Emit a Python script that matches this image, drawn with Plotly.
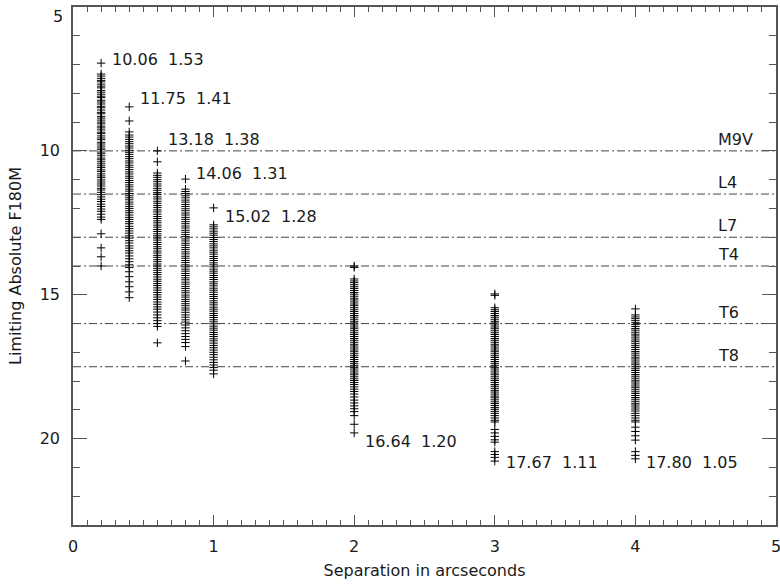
import plotly.graph_objects as go

# ---------------- data ----------------
separations = [0.2, 0.4, 0.6, 0.8, 1.0, 2.0, 3.0, 4.0]

mags_02 = [6.95, 7.33, 7.40, 7.48, 7.55, 7.60, 7.68, 7.75, 7.81, 7.90, 7.96, 8.03, 8.10, 8.15,
           8.24, 8.30, 8.37, 8.45, 8.50, 8.58, 8.66, 8.71, 8.80, 8.86, 8.93, 9.00, 9.06, 9.14,
           9.20, 9.27, 9.35, 9.40, 9.48, 9.55, 9.61, 9.70, 9.76, 9.83, 9.90, 9.96, 10.04, 10.10,
           10.17, 10.25, 10.31, 10.38, 10.45, 10.52, 10.58, 10.66, 10.72, 10.80, 10.87, 10.93,
           11.01, 11.08, 11.15, 11.22, 11.30, 11.36, 11.44, 11.52, 11.60, 11.68, 11.76, 11.85,
           11.93, 12.02, 12.10, 12.20, 12.30, 12.38, 12.88, 13.37, 13.68, 14.00]
mags_04 = [8.47, 8.96, 9.34, 9.45, 9.52, 9.60, 9.68, 9.75, 9.83, 9.90, 9.98, 10.05, 10.12, 10.20,
           10.27, 10.35, 10.42, 10.50, 10.57, 10.65, 10.73, 10.80, 10.88, 10.95, 11.03, 11.10,
           11.18, 11.25, 11.33, 11.40, 11.48, 11.56, 11.63, 11.70, 11.78, 11.85, 11.93, 12.00,
           12.08, 12.15, 12.23, 12.31, 12.38, 12.46, 12.53, 12.62, 12.70, 12.78, 12.86, 12.95,
           13.03, 13.12, 13.20, 13.30, 13.38, 13.47, 13.55, 13.65, 13.75, 13.85, 13.96, 14.05,
           14.20, 14.37, 14.55, 14.72, 14.90, 15.10]
mags_06 = [10.00, 10.38, 10.77, 10.85, 10.92, 11.00, 11.07, 11.15, 11.22, 11.30, 11.37, 11.45,
           11.52, 11.60, 11.67, 11.75, 11.82, 11.90, 11.97, 12.05, 12.12, 12.20, 12.28, 12.35,
           12.43, 12.50, 12.58, 12.65, 12.73, 12.80, 12.88, 12.95, 13.03, 13.10, 13.18, 13.25,
           13.33, 13.40, 13.48, 13.55, 13.63, 13.70, 13.78, 13.85, 13.93, 14.00, 14.08, 14.15,
           14.23, 14.30, 14.38, 14.46, 14.53, 14.61, 14.68, 14.76, 14.84, 14.92, 15.00, 15.08,
           15.16, 15.25, 15.33, 15.42, 15.50, 15.60, 15.70, 15.80, 15.90, 16.00, 16.10, 16.67]
mags_08 = [10.98, 11.33, 11.41, 11.48, 11.56, 11.63, 11.71, 11.78, 11.86, 11.93, 12.01, 12.08,
           12.16, 12.23, 12.31, 12.38, 12.46, 12.53, 12.61, 12.68, 12.76, 12.83, 12.91, 12.98,
           13.06, 13.13, 13.21, 13.28, 13.36, 13.43, 13.51, 13.58, 13.66, 13.73, 13.81, 13.88,
           13.96, 14.03, 14.11, 14.18, 14.26, 14.33, 14.41, 14.48, 14.56, 14.63, 14.71, 14.78,
           14.86, 14.93, 15.01, 15.08, 15.16, 15.23, 15.31, 15.38, 15.46, 15.53, 15.61, 15.70,
           15.78, 15.87, 15.95, 16.05, 16.15, 16.25, 16.35, 16.45, 16.55, 16.66, 16.80, 17.30]
mags_10 = [11.98, 12.57, 12.64, 12.71, 12.79, 12.86, 12.93, 13.01, 13.08, 13.15, 13.23, 13.30,
           13.37, 13.45, 13.52, 13.59, 13.67, 13.74, 13.81, 13.89, 13.96, 14.03, 14.11, 14.18,
           14.25, 14.33, 14.40, 14.47, 14.55, 14.62, 14.69, 14.77, 14.84, 14.91, 14.99, 15.06,
           15.13, 15.21, 15.28, 15.35, 15.43, 15.50, 15.57, 15.65, 15.72, 15.79, 15.87, 15.94,
           16.01, 16.09, 16.16, 16.23, 16.31, 16.38, 16.45, 16.53, 16.60, 16.68, 16.76, 16.84,
           16.92, 17.00, 17.08, 17.17, 17.26, 17.35, 17.44, 17.53, 17.62, 17.75]
mags_20 = [14.00, 14.05, 14.45, 14.52, 14.58, 14.65, 14.72, 14.78, 14.85, 14.92, 14.98, 15.05,
           15.12, 15.18, 15.25, 15.32, 15.38, 15.45, 15.52, 15.58, 15.65, 15.72, 15.78, 15.85,
           15.92, 15.98, 16.05, 16.12, 16.18, 16.25, 16.32, 16.38, 16.45, 16.52, 16.58, 16.65,
           16.72, 16.78, 16.85, 16.92, 16.98, 17.05, 17.12, 17.18, 17.25, 17.32, 17.38, 17.45,
           17.52, 17.58, 17.65, 17.72, 17.78, 17.85, 17.92, 17.98, 18.05, 18.12, 18.20, 18.28,
           18.36, 18.45, 18.55, 18.66, 18.76, 18.86, 18.96, 19.06, 19.20, 19.50, 19.80]
mags_30 = [14.97, 15.02, 15.45, 15.52, 15.58, 15.65, 15.72, 15.78, 15.85, 15.92, 15.98, 16.05,
           16.12, 16.18, 16.25, 16.32, 16.38, 16.45, 16.52, 16.58, 16.65, 16.72, 16.78, 16.85,
           16.92, 16.98, 17.05, 17.12, 17.18, 17.25, 17.32, 17.38, 17.45, 17.52, 17.58, 17.65,
           17.72, 17.78, 17.85, 17.92, 17.98, 18.05, 18.12, 18.18, 18.25, 18.32, 18.38, 18.45,
           18.52, 18.58, 18.65, 18.72, 18.78, 18.85, 18.92, 18.98, 19.05, 19.12, 19.20, 19.28,
           19.36, 19.42, 19.68, 19.80, 19.92, 20.04, 20.12, 20.45, 20.55, 20.65, 20.78]
mags_40 = [15.49, 15.70, 15.77, 15.83, 15.90, 15.97, 16.03, 16.10, 16.17, 16.23, 16.30, 16.37,
           16.43, 16.50, 16.57, 16.63, 16.70, 16.77, 16.83, 16.90, 16.97, 17.03, 17.10, 17.17,
           17.23, 17.30, 17.37, 17.43, 17.50, 17.57, 17.63, 17.70, 17.77, 17.83, 17.90, 17.97,
           18.03, 18.10, 18.17, 18.23, 18.30, 18.37, 18.43, 18.50, 18.57, 18.63, 18.70, 18.77,
           18.83, 18.90, 18.97, 19.04, 19.12, 19.20, 19.28, 19.36, 19.42, 19.60, 19.75, 19.90,
           20.05, 20.45, 20.58, 20.70]

column_mags = [mags_02, mags_04, mags_06, mags_08, mags_10, mags_20, mags_30, mags_40]

stat_medians = ["10.06", "11.75", "13.18", "14.06", "15.02", "16.64", "17.67", "17.80"]
stat_sigmas = ["1.53", "1.41", "1.38", "1.31", "1.28", "1.20", "1.11", "1.05"]

spectral_types = ["M9V", "L4", "L7", "T4", "T6", "T8"]
spectral_mags = [10.0, 11.5, 13.0, 14.0, 16.0, 17.5]

y_tick_values = [5, 10, 15, 20]
y_tick_labels = ["5", "10", "15", "20"]

# ---------------- layout helpers (label placement) ----------------
stat_label_y = [6.81, 8.19, 9.62, 10.80, 12.29, 20.10, 20.83, 20.83]
spt_label_x = 4.573

FONT = "DejaVu Sans"
TXT = "#1a1a1a"
AX = "#555555"

fig = go.Figure()

xs, ys = [], []
for sep, mags in zip(separations, column_mags):
    xs += [sep] * len(mags)
    ys += mags

# dash-dot reference lines
for st, m in zip(spectral_types, spectral_mags):
    fig.add_trace(go.Scatter(x=[0, 5], y=[m, m], mode="lines",
                             line=dict(color="#444444", width=1, dash="8px,3px,2px,3px"),
                             hoverinfo="skip", showlegend=False))

fig.add_trace(go.Scatter(x=xs, y=ys, mode="markers",
                         marker=dict(symbol="cross-thin", size=6,
                                     line=dict(width=1, color="black"), color="black"),
                         showlegend=False))

annotations = []
for sep, med, sig, yl in zip(separations, stat_medians, stat_sigmas, stat_label_y):
    annotations.append(dict(x=sep, y=yl, xref="x", yref="y", text=f"{med}  {sig}",
                            showarrow=False, xanchor="left", yanchor="middle", xshift=9,
                            font=dict(family=FONT, size=16, color=TXT)))
for st, m in zip(spectral_types, spectral_mags):
    annotations.append(dict(x=spt_label_x, y=m, xref="x", yref="y", text=st,
                            showarrow=False, xanchor="left", yanchor="bottom", yshift=0,
                            font=dict(family=FONT, size=16, color=TXT)))

# the top y tick label sits just below the frame edge (as in the reference)
ticktext_shown = [t if v != 5 else "" for v, t in zip(y_tick_values, y_tick_labels)]
annotations.append(dict(x=0, y=5, xref="paper", yref="y", text=y_tick_labels[0],
                        showarrow=False, xanchor="right", yanchor="top", xshift=-8, yshift=2,
                        font=dict(family=FONT, size=16, color=TXT)))

fig.update_layout(
    width=780, height=586,
    margin=dict(l=73, r=4, t=7, b=61, autoexpand=False),
    paper_bgcolor="white", plot_bgcolor="white",
    font=dict(family=FONT, size=16, color=TXT),
    annotations=annotations,
    xaxis=dict(range=[0, 5], tickvals=[0, 1, 2, 3, 4, 5], ticks="inside", ticklen=10,
               tickwidth=1, tickcolor=AX, showline=True, linecolor=AX, linewidth=1.5,
               mirror="ticks", showgrid=False, zeroline=False, automargin=False,
               minor=dict(dtick=0.1, ticks="inside", ticklen=5, tickcolor=AX, showgrid=False),
               title=dict(text="Separation in arcseconds", font=dict(family=FONT, size=16),
                          standoff=10),
               tickfont=dict(family=FONT, size=16), ticklabelstandoff=6,
               ticklabeloverflow="allow"),
    yaxis=dict(range=[23, 5], tickvals=y_tick_values, ticktext=ticktext_shown,
               ticks="inside", ticklen=14,
               tickwidth=1, tickcolor=AX, showline=True, linecolor=AX, linewidth=1.5,
               mirror="ticks", showgrid=False, zeroline=False, automargin=False,
               minor=dict(dtick=1, ticks="inside", ticklen=7, tickcolor=AX, showgrid=False),
               title=dict(text="Limiting Absolute F180M", font=dict(family=FONT, size=16),
                          standoff=14),
               tickfont=dict(family=FONT, size=16), ticklabelstandoff=8,
               ticklabeloverflow="allow"),
)

fig.write_html("out.html")
